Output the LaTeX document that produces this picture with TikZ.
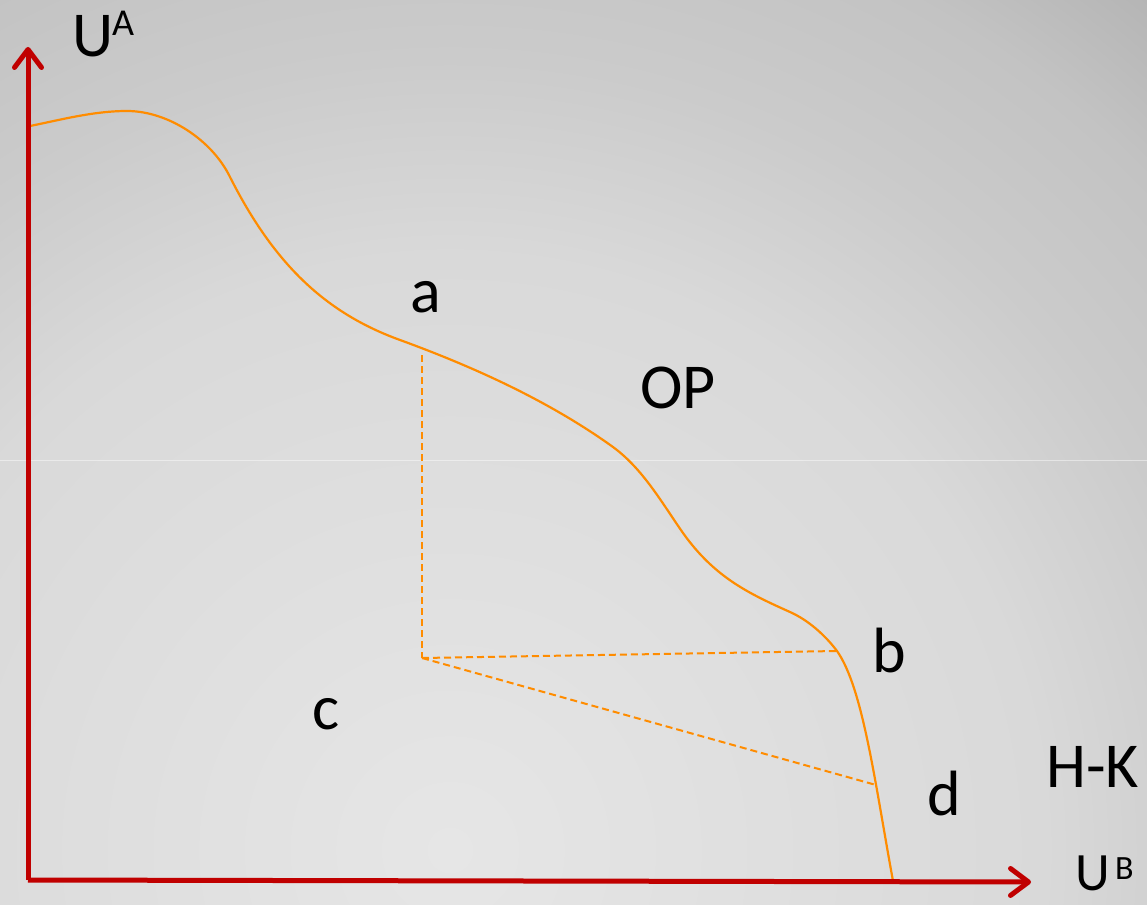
\documentclass[tikz,border=0pt]{standalone}
\usepackage{fontspec}
\setmainfont{Carlito}
\usetikzlibrary{arrows.meta}
\definecolor{axisred}{HTML}{C00000}
\definecolor{curveor}{HTML}{FF8C00}
\definecolor{bgA}{HTML}{E6E6E6}
\definecolor{bgB}{HTML}{D9D9D9}
\definecolor{bgC}{HTML}{CBCBCB}
\definecolor{bgD}{HTML}{C3C3C3}
\definecolor{bgE}{HTML}{B5B5B5}
\pgfdeclareradialshading{bgshade}{\pgfpoint{0bp}{0bp}}{color(0bp)=(bgA); color(13.5bp)=(bgB); color(18bp)=(bgC); color(22bp)=(bgD); color(25bp)=(bgE); color(50bp)=(bgE)}
\tikzset{
  axis/.style={draw=axisred, line width=5pt, -{Straight Barb[length=18pt,width=27pt,round]}},
  frontier/.style={draw=curveor, line width=2.2pt},
  guide/.style={draw=curveor, line width=2pt, dash pattern=on 7pt off 4pt},
  lbl/.style={anchor=base west, inner sep=0pt, font=\fontsize{64}{64}\selectfont},
  suplbl/.style={anchor=base west, inner sep=0pt, font=\fontsize{38}{38}\selectfont}
}
\begin{document}
\begin{tikzpicture}[x=1pt,y=-1pt]
\useasboundingbox (0,0) rectangle (1147,904);
\begin{scope}
\clip (0,0) rectangle (1147,904);
\shade[shading=bgshade] (450,850) circle (1100pt);
\end{scope}
\draw[white, opacity=0.45, line width=1pt] (0,460) -- (1147,460);
% coordinates
\coordinate (O) at (28,880);
\coordinate (Ytip) at (28,47);
\coordinate (Xtip) at (1031,882);
\coordinate (A) at (422,355);
\coordinate (C) at (422,658);
\coordinate (B) at (837,651);
\coordinate (D) at (876,785);
% frontier curve
\draw[frontier] (30,126)
  .. controls (62,119.5) and (94,111) .. (127,111)
  .. controls (168,111) and (212,140) .. (230,177)
  .. controls (275,266) and (327,313.5) .. (400,340)
  .. controls (474,367) and (549,401) .. (613,447)
  .. controls (643,469) and (662,503) .. (683,533)
  .. controls (715,578) and (750,594) .. (790,612)
  .. controls (808,620) and (825,635) .. (B)
  .. controls (863,688) and (875,783) .. (893,881);
% dashed guides
\draw[guide] (A) -- (C);
\draw[guide] (C) -- (B);
\draw[guide] (C) -- (D);
% axes
\draw[axis] (O) -- (Ytip);
\draw[axis] (O) -- (Xtip);
% labels
\node[lbl] (ua) at (72,57) {U};
\node[suplbl] (uasup) at (112,36) {A};
\node[lbl, font=\fontsize{54}{54}\selectfont] (ub) at (1075,890) {U};
\node[suplbl, font=\fontsize{34}{34}\selectfont] (ubsup) at (1115,879) {B};
\node[lbl] (la) at (410,312) {a};
\node[lbl] (lop) at (640,408) {OP};
\node[lbl] (lb) at (872,672) {b};
\node[lbl] (lc) at (312,729) {c};
\node[lbl] (ld) at (927,815) {d};
\node[lbl] (lhk) at (1046,787) {H-K};
\end{tikzpicture}
\end{document}
